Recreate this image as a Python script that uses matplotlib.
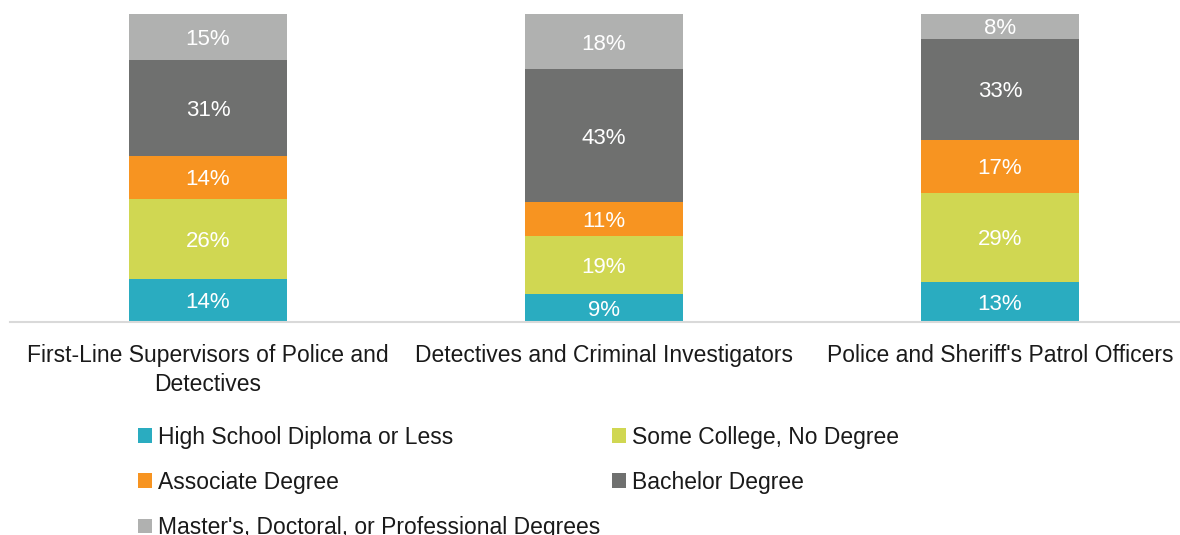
import matplotlib
matplotlib.use("Agg")
import matplotlib.pyplot as plt
import numpy as np

categories = [
    "First-Line Supervisors of Police and\nDetectives",
    "Detectives and Criminal Investigators",
    "Police and Sheriff's Patrol Officers",
]
series_names = [
    "High School Diploma or Less",
    "Some College, No Degree",
    "Associate Degree",
    "Bachelor Degree",
    "Master's, Doctoral, or Professional Degrees",
]
high_school = [14, 9, 13]
some_college = [26, 19, 29]
associate = [14, 11, 17]
bachelor = [31, 43, 33]
masters = [15, 18, 8]
colors = ["#2AACC0", "#D0D752", "#F79421", "#6F706F", "#B0B1B0"]

plt.rcParams["font.family"] = ["Liberation Sans", "DejaVu Sans"]

W, H = 1180, 535
fig = plt.figure(figsize=(W / 100, H / 100), dpi=100)
# axes spans x 10..1198 px, y 14..322 px
ax = fig.add_axes([10 / W, (H - 322) / H, 1188 / W, 308 / H])

x = np.arange(len(categories))
bottom = np.zeros(len(categories))
handles = []
for name, vals, col in zip(series_names,
                           [high_school, some_college, associate, bachelor, masters],
                           colors):
    vals = np.array(vals, dtype=float)
    bars = ax.bar(x, vals, 0.4, bottom=bottom, color=col, label=name)
    for xi, b, v in zip(x, bottom, vals):
        ax.text(xi, b + v / 2, f"{int(v)}%", ha="center", va="center_baseline",
                color="white", fontsize=16)
    bottom += vals
    handles.append(bars)

ax.set_xlim(-0.5, 2.5)
ax.set_ylim(0, 100)
for s in ["top", "right", "left"]:
    ax.spines[s].set_visible(False)
ax.spines["bottom"].set_color("#D9D9D9")
ax.spines["bottom"].set_linewidth(1.5)
ax.set_yticks([])
ax.set_xticks(x)
ax.set_xticklabels(categories, fontsize=16.5, color="#1a1a1a", linespacing=1.32)
ax.tick_params(axis="x", length=0, pad=16)

order = [0, 2, 4, 1, 3]
leg = fig.legend([handles[i] for i in order], [series_names[i] for i in order],
                 ncol=2, loc="upper left", bbox_to_anchor=(117 / W, 1 - 405 / H),
                 frameon=False, fontsize=16.5, handlelength=0.61, handleheight=0.61,
                 handletextpad=0.26, labelspacing=0.97, columnspacing=0.52,
                 labelcolor="#1a1a1a")

fig.savefig("out.png", dpi=100)
